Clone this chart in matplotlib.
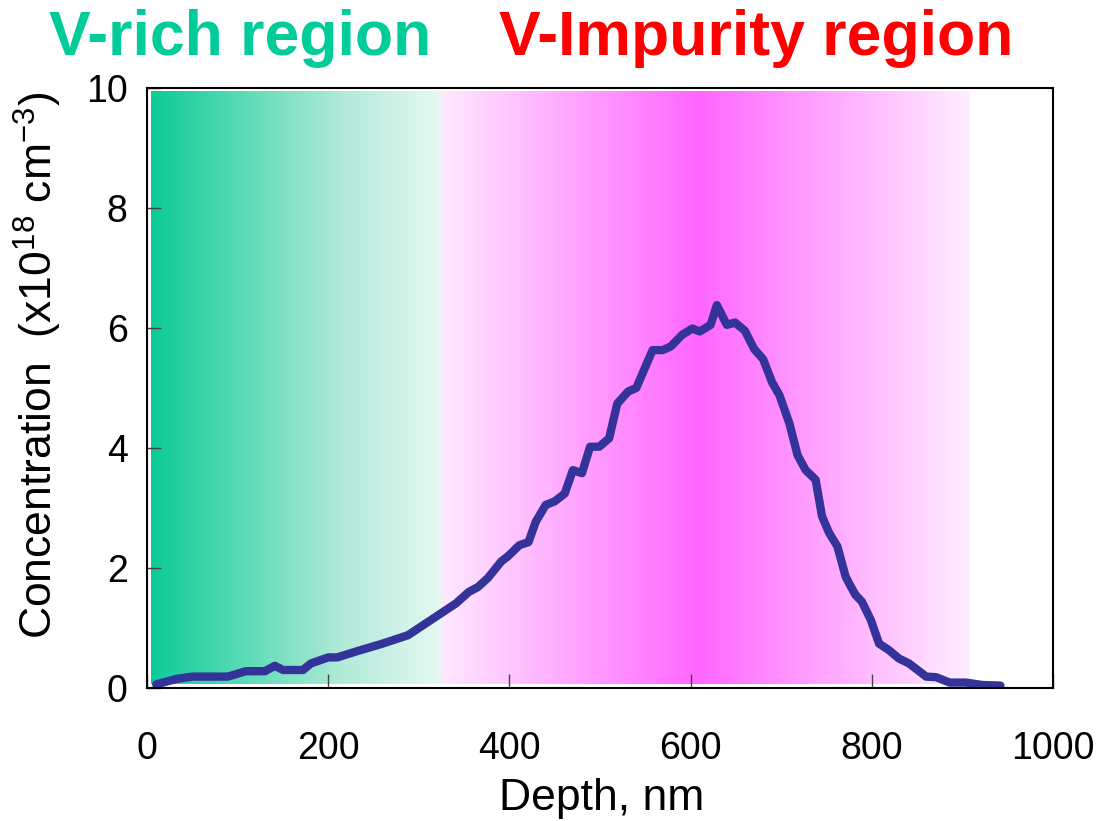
import numpy as np
import matplotlib
matplotlib.use("Agg")
import matplotlib.pyplot as plt
from matplotlib.colors import LinearSegmentedColormap

plt.rcParams["font.family"] = ["Liberation Sans", "DejaVu Sans"]
plt.rcParams["mathtext.fontset"] = "custom"
plt.rcParams["mathtext.rm"] = "Liberation Sans"
plt.rcParams["mathtext.it"] = "Liberation Sans:italic"

# Vanadium depth profile
depth = [10, 32, 50, 89, 109, 130, 141, 150, 172, 181, 200, 210, 231, 260,
         288, 308, 326, 341, 355, 365, 376, 391, 398, 411, 421, 429, 440,
         450, 461, 470, 480, 489, 499, 510, 519, 531, 540, 558, 569, 578,
         591, 602, 610, 622, 629, 640, 649, 660, 670, 680, 690, 698, 709,
         718, 727, 738, 745, 753, 762, 771, 775, 782, 789, 799, 808, 819,
         830, 841, 860, 871, 886, 904, 922, 942]
conc = [0.06, 0.15, 0.19, 0.19, 0.28, 0.28, 0.37, 0.30, 0.30, 0.41, 0.51,
        0.51, 0.61, 0.74, 0.88, 1.08, 1.26, 1.41, 1.60, 1.68, 1.83, 2.11,
        2.19, 2.38, 2.43, 2.77, 3.05, 3.11, 3.24, 3.63, 3.58, 4.02, 4.02,
        4.16, 4.74, 4.94, 5.00, 5.63, 5.63, 5.69, 5.89, 5.99, 5.94, 6.05,
        6.38, 6.05, 6.09, 5.95, 5.65, 5.48, 5.09, 4.88, 4.41, 3.88, 3.63,
        3.47, 2.86, 2.58, 2.36, 1.86, 1.74, 1.55, 1.44, 1.13, 0.74, 0.63,
        0.49, 0.41, 0.19, 0.18, 0.09, 0.09, 0.05, 0.04]

# shaded regions (depth range, nm)
rich_range = (4, 326)
impurity_range = (326, 908)
impurity_peak = 608

fig = plt.figure(figsize=(10.98, 8.21), dpi=100)
ax = fig.add_axes([0.134, 0.162, 0.825, 0.731])

ramp = np.linspace(0, 1, 512).reshape(1, -1)

green = LinearSegmentedColormap.from_list(
    "green", ["#0ccb97", "#5fdcb8", "#b4eada", "#e6f9f3"])
ax.imshow(ramp, cmap=green, aspect="auto", interpolation="bilinear",
          extent=[rich_range[0], rich_range[1], 0.07, 9.95], zorder=0)

f = (impurity_peak - impurity_range[0]) / (impurity_range[1] - impurity_range[0])
pink = LinearSegmentedColormap.from_list(
    "pink", [(0, "#ffe8ff"), (f, "#ff66ff"), (1, "#ffeeff")])
ax.imshow(ramp, cmap=pink, aspect="auto", interpolation="bilinear",
          extent=[impurity_range[0], impurity_range[1], 0.07, 9.95], zorder=0)

ax.plot(depth, conc, color="#333399", lw=6, solid_joinstyle="round",
        solid_capstyle="round", zorder=2)

ax.set_xlim(0, 1000)
ax.set_ylim(0, 10)
ax.set_xticks([0, 200, 400, 600, 800, 1000])
ax.set_yticks([0, 2, 4, 6, 8, 10])
ax.tick_params(direction="in", length=10, width=1, color="#444444",
               labelsize=27)
ax.tick_params(axis="x", pad=31)
ax.tick_params(axis="y", pad=14)
for s in ax.spines.values():
    s.set_linewidth(1.5)
    s.set_zorder(3)

ax.set_xlabel("Depth, nm", fontsize=32)
ax.xaxis.set_label_coords(0.502, -0.15)
ax.set_ylabel(r"Concentration  (x10$\mathregular{^{18}}$ cm$\mathregular{^{-3}}$)",
              fontsize=32)
ax.yaxis.set_label_coords(-0.092, 0.538)

fig.text(0.2186, 0.933, "V-rich region", color="#00cc99", fontsize=45,
         fontweight="bold", ha="center", va="baseline")
fig.text(0.689, 0.933, "V-Impurity region", color="#ff0000", fontsize=45,
         fontweight="bold", ha="center", va="baseline")

fig.savefig("out.png", dpi=100)
